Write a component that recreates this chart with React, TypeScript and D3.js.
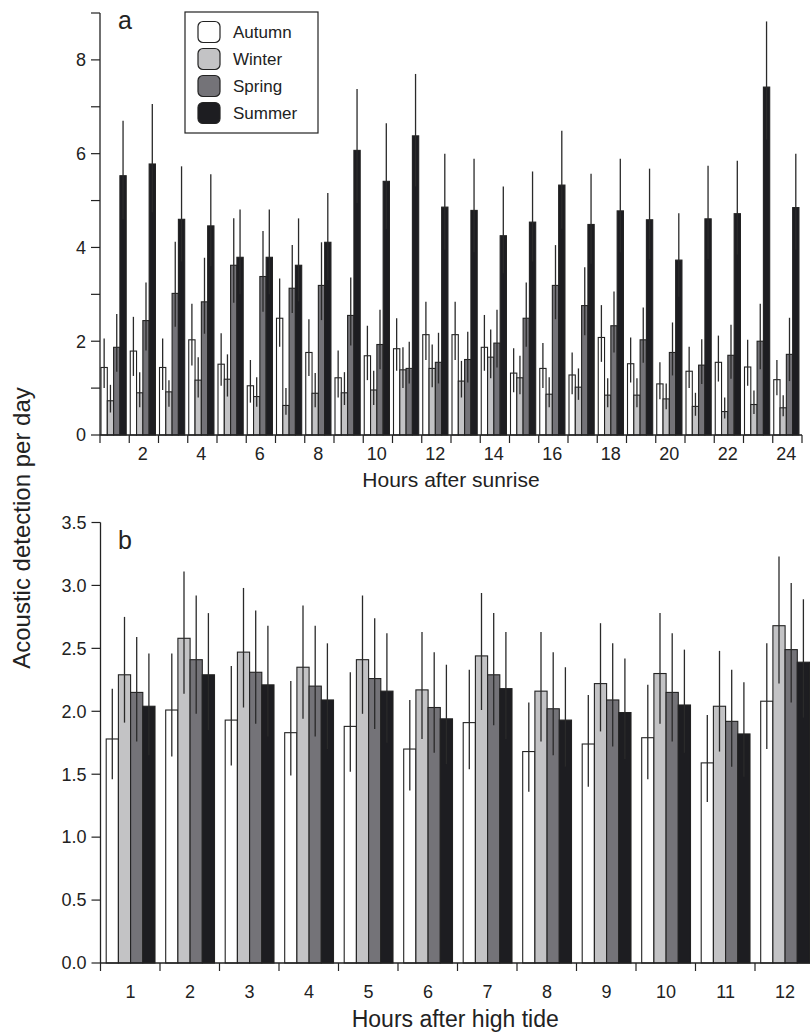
import React from 'react';
import * as d3 from 'd3';

// seasons and their fills
const seasons = ['Autumn', 'Winter', 'Spring', 'Summer'];
const fills = ['#ffffff', '#c3c3c5', '#747378', '#1d1d21'];

// panel a: hours after sunrise
const hoursSunrise = [1, 2, 3, 4, 5, 6, 7, 8, 9, 10, 11, 12, 13, 14, 15, 16, 17, 18, 19, 20, 21, 22, 23, 24];
const sunriseAutumn = [1.44, 1.79, 1.44, 2.03, 1.51, 1.05, 2.49, 1.76, 1.22, 1.69, 1.84, 2.14, 2.14, 1.87, 1.32, 1.42, 1.28, 2.08, 1.52, 1.09, 1.36, 1.55, 1.45, 1.18];
const sunriseWinter = [0.73, 0.9, 0.92, 1.17, 1.19, 0.82, 0.63, 0.89, 0.9, 0.96, 1.39, 1.42, 1.15, 1.66, 1.22, 0.87, 1.02, 0.85, 0.85, 0.77, 0.61, 0.5, 0.65, 0.58];
const sunriseSpring = [1.87, 2.44, 3.02, 2.84, 3.62, 3.38, 3.13, 3.19, 2.55, 1.93, 1.42, 1.55, 1.61, 1.96, 2.49, 3.19, 2.76, 2.33, 2.03, 1.76, 1.49, 1.7, 2.0, 1.72];
const sunriseSummer = [5.53, 5.78, 4.6, 4.46, 3.79, 3.79, 3.62, 4.11, 6.07, 5.41, 6.38, 4.86, 4.79, 4.25, 4.54, 5.33, 4.49, 4.78, 4.59, 3.73, 4.61, 4.72, 7.42, 4.85];
// upper / lower ends of the error bars
const sunriseAutumnHi = [2.06, 2.52, 2.06, 2.8, 2.17, 1.6, 3.34, 2.47, 1.8, 2.33, 2.49, 2.84, 2.84, 2.56, 1.85, 1.96, 1.76, 2.77, 2.08, 1.55, 1.88, 2.12, 2.03, 1.6];
const sunriseWinterHi = [1.07, 1.34, 1.17, 1.66, 1.72, 1.23, 1.0, 1.32, 1.34, 1.37, 1.87, 1.93, 1.58, 2.25, 1.69, 1.23, 1.42, 1.21, 1.21, 1.1, 0.9, 0.8, 0.95, 0.85];
const sunriseSpringHi = [2.58, 3.25, 4.12, 3.78, 4.62, 4.35, 4.05, 4.11, 3.36, 2.67, 1.99, 2.18, 2.2, 2.67, 3.25, 4.05, 3.58, 3.06, 2.72, 2.4, 2.04, 2.35, 2.8, 2.5];
const sunriseSummerHi = [6.7, 7.06, 5.73, 5.56, 4.81, 4.81, 4.62, 5.16, 7.38, 6.65, 7.7, 6.0, 5.89, 5.3, 5.62, 6.49, 5.57, 5.89, 5.68, 4.73, 5.74, 5.85, 8.82, 6.0];
const sunriseAutumnLo = [1.0, 1.26, 0.96, 1.48, 1.05, 0.69, 1.88, 1.26, 0.8, 1.17, 1.37, 1.6, 1.6, 1.37, 0.91, 1.0, 0.87, 1.56, 1.12, 0.76, 1.0, 1.14, 1.05, 0.85];
const sunriseWinterLo = [0.48, 0.59, 0.6, 0.8, 0.82, 0.6, 0.43, 0.59, 0.64, 0.64, 1.0, 1.02, 0.8, 1.21, 0.87, 0.59, 0.75, 0.59, 0.59, 0.55, 0.41, 0.35, 0.45, 0.4];
const sunriseSpringLo = [1.35, 1.8, 2.31, 2.16, 2.82, 2.63, 2.6, 2.45, 1.91, 1.4, 1.1, 1.1, 1.12, 1.44, 1.88, 2.47, 2.13, 1.76, 1.54, 1.27, 1.09, 1.2, 1.4, 1.15];
const sunriseSummerLo = [4.6, 4.75, 3.7, 3.6, 3.0, 3.0, 2.85, 3.3, 4.95, 4.4, 5.3, 3.95, 3.9, 3.45, 3.7, 4.4, 3.65, 3.9, 3.75, 2.95, 3.75, 3.85, 6.3, 3.95];
const sunriseTicks = [0, 1, 2, 3, 4, 5, 6, 7, 8, 9];
const sunriseLabels = [0, 2, 4, 6, 8];

// panel b: hours after high tide
const hoursTide = [1, 2, 3, 4, 5, 6, 7, 8, 9, 10, 11, 12];
const tideAutumn = [1.78, 2.01, 1.93, 1.83, 1.88, 1.7, 1.91, 1.68, 1.74, 1.79, 1.59, 2.08];
const tideWinter = [2.29, 2.58, 2.47, 2.35, 2.41, 2.17, 2.44, 2.16, 2.22, 2.3, 2.04, 2.68];
const tideSpring = [2.15, 2.41, 2.31, 2.2, 2.26, 2.03, 2.29, 2.02, 2.09, 2.15, 1.92, 2.49];
const tideSummer = [2.04, 2.29, 2.21, 2.09, 2.16, 1.94, 2.18, 1.93, 1.99, 2.05, 1.82, 2.39];
const tideAutumnHi = [2.18, 2.46, 2.36, 2.24, 2.31, 2.09, 2.33, 2.07, 2.13, 2.21, 1.97, 2.54];
const tideWinterHi = [2.75, 3.11, 2.98, 2.84, 2.92, 2.63, 2.94, 2.63, 2.7, 2.78, 2.48, 3.23];
const tideSpringHi = [2.59, 2.92, 2.8, 2.68, 2.74, 2.47, 2.78, 2.47, 2.54, 2.62, 2.33, 3.02];
const tideSummerHi = [2.46, 2.78, 2.68, 2.54, 2.62, 2.37, 2.63, 2.35, 2.42, 2.49, 2.23, 2.89];
const tideAutumnLo = [1.46, 1.64, 1.57, 1.49, 1.52, 1.37, 1.54, 1.36, 1.4, 1.46, 1.28, 1.7];
const tideWinterLo = [1.91, 2.14, 2.03, 1.94, 1.98, 1.78, 2.01, 1.76, 1.84, 1.9, 1.68, 2.22];
const tideSpringLo = [1.76, 1.98, 1.9, 1.8, 1.86, 1.67, 1.89, 1.65, 1.72, 1.76, 1.56, 2.07];
const tideSummerLo = [1.65, 1.85, 1.8, 1.7, 1.75, 1.58, 1.78, 1.56, 1.62, 1.67, 1.48, 1.95];
const tideTicks = [0, 0.5, 1, 1.5, 2, 2.5, 3, 3.5];

const FONT = 'Liberation Sans, Arial, Helvetica, sans-serif';
const INK = '#222';

type PanelProps = {
  groups: number[];
  series: number[][];
  his: number[][];
  los: number[][];
  x: d3.ScaleBand<number>;
  sub: d3.ScaleBand<string>;
  y: d3.ScaleLinear<number, number>;
  yTicks: number[];
  yLabels: number[];
  fmt: (v: number) => string;
  xLabels: number[];
  xLabelY: number;
  title: string;
  titleY: number;
  titleSize: number;
  letter: string;
  letterY: number;
  axisEnd: number;
};

const Panel = (p: PanelProps) => {
  const y0 = p.y(0);
  const x0 = p.x.range()[0];
  const bounds = p.groups.map((g) => p.x(g) as number).concat([p.x.range()[1]]);
  const barsMid = ((p.sub(seasons[0]) as number) + (p.sub(seasons[3]) as number) + p.sub.bandwidth()) / 2;
  return (
    <g>
      {/* bars */}
      {p.groups.map((g, i) => (
        <g key={g} transform={`translate(${p.x(g)},0)`}>
          {seasons.map((s, j) => {
            const v = p.series[j][i];
            return (
              <rect key={s} x={p.sub(s)} y={p.y(v)} width={p.sub.bandwidth()} height={y0 - p.y(v)}
                fill={fills[j]} stroke={INK} strokeWidth={1.1} />
            );
          })}
          {seasons.map((s, j) => {
            const cx = (p.sub(s) as number) + p.sub.bandwidth() / 2;
            return (
              <line key={s} x1={cx} x2={cx} y1={p.y(p.los[j][i])} y2={p.y(p.his[j][i])}
                stroke="#2a2a2a" strokeWidth={1.3} />
            );
          })}
        </g>
      ))}
      {/* y axis */}
      <line x1={x0} x2={x0} y1={p.y.range()[1]} y2={y0} stroke={INK} strokeWidth={1.3} />
      {p.yTicks.map((t) => (
        <line key={t} x1={x0 - 9} x2={x0} y1={p.y(t)} y2={p.y(t)} stroke={INK} strokeWidth={1.2} />
      ))}
      {p.yLabels.map((t) => (
        <text key={t} x={x0 - 14} y={p.y(t)} dy="0.35em" textAnchor="end"
          fontSize={18} fontFamily={FONT} fill={INK}>{p.fmt(t)}</text>
      ))}
      {/* x axis */}
      <line x1={x0} x2={p.axisEnd} y1={y0} y2={y0} stroke={INK} strokeWidth={1.3} />
      {bounds.map((b, i) => (
        <line key={i} x1={b} x2={b} y1={y0} y2={y0 + 8} stroke={INK} strokeWidth={1.2} />
      ))}
      {p.xLabels.map((g) => (
        <text key={g} x={(p.x(g) as number) + barsMid} y={p.xLabelY} textAnchor="middle"
          fontSize={18} fontFamily={FONT} fill={INK}>{g}</text>
      ))}
      <text x={(x0 + p.axisEnd) / 2} y={p.titleY} textAnchor="middle" fontSize={p.titleSize}
        fontFamily={FONT} fill={INK}>{p.title}</text>
      <text x={118} y={p.letterY} fontSize={25} fontFamily={FONT} fill={INK}>{p.letter}</text>
    </g>
  );
};

export default function App() {
  const stepA = 29.25;
  const xA = d3.scaleBand<number>().domain(hoursSunrise).range([100, 100 + stepA * hoursSunrise.length]);
  const subA = d3.scaleBand<string>().domain(seasons).range([1, 1 + 4 * 6.3]);
  const yA = d3.scaleLinear().domain([0, 9]).range([435, 13]);

  const stepB = 59.5;
  const xB = d3.scaleBand<number>().domain(hoursTide).range([100.5, 100.5 + stepB * hoursTide.length]);
  const subB = d3.scaleBand<string>().domain(seasons).range([5.7, 5.7 + 4 * 12.2]);
  const yB = d3.scaleLinear().domain([0, 3.5]).range([963, 522.5]);

  const legendRow = d3.scalePoint<string>().domain(seasons).range([32, 113]);

  return (
    <svg width={810} height={1033} style={{ position: 'absolute', left: 0, top: 0, background: '#fff' }}>
      <rect width={810} height={1033} fill="#fff" />
      <Panel groups={hoursSunrise}
        series={[sunriseAutumn, sunriseWinter, sunriseSpring, sunriseSummer]}
        his={[sunriseAutumnHi, sunriseWinterHi, sunriseSpringHi, sunriseSummerHi]}
        los={[sunriseAutumnLo, sunriseWinterLo, sunriseSpringLo, sunriseSummerLo]}
        x={xA} sub={subA} y={yA} yTicks={sunriseTicks} yLabels={sunriseLabels}
        fmt={d3.format('d')} xLabels={hoursSunrise.filter((h) => h % 2 === 0)} xLabelY={460}
        title="Hours after sunrise" titleY={487} titleSize={21} letter="a" letterY={29} axisEnd={802} />
      <Panel groups={hoursTide}
        series={[tideAutumn, tideWinter, tideSpring, tideSummer]}
        his={[tideAutumnHi, tideWinterHi, tideSpringHi, tideSummerHi]}
        los={[tideAutumnLo, tideWinterLo, tideSpringLo, tideSummerLo]}
        x={xB} sub={subB} y={yB} yTicks={tideTicks} yLabels={tideTicks}
        fmt={d3.format('.1f')} xLabels={hoursTide} xLabelY={998}
        title="Hours after high tide" titleY={1027} titleSize={23} letter="b" letterY={549} axisEnd={810} />
      {/* legend */}
      <rect x={185} y={12} width={133} height={121} fill="#fff" stroke={INK} strokeWidth={1.2} />
      {seasons.map((s, j) => (
        <g key={s} transform={`translate(0,${legendRow(s)})`}>
          <rect x={198} y={-10.5} width={22} height={21} rx={5} fill={fills[j]} stroke={INK} strokeWidth={1.2} />
          <text x={233} y={0} dy="0.35em" fontSize={17} fontFamily={FONT} fill={INK}>{s}</text>
        </g>
      ))}
      <text transform="translate(30,528) rotate(-90)" textAnchor="middle" fontSize={24}
        fontFamily={FONT} fill={INK}>Acoustic detection per day</text>
    </svg>
  );
}
